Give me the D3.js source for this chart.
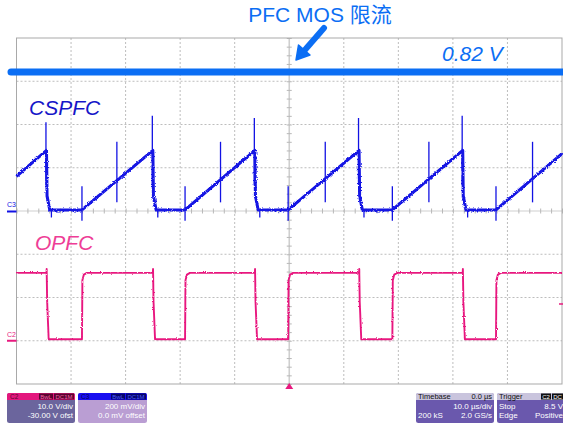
<!DOCTYPE html>
<html>
<head>
<meta charset="utf-8">
<script src="https://cdn.jsdelivr.net/npm/d3@7"></script>
<style>
  body { margin: 0; background: #fff; }
  svg { display: block; font-family: "Liberation Sans", Arial, "Noto Sans CJK SC", sans-serif; }
</style>
</head>
<body>
<script>
// Scope screen: 10 us/div, C3 = 200 mV/div, C2 = 10 V/div (-30 V offset)
var timeTicks = [-50, -40, -30, -20, -10, 0, 10, 20, 30, 40, 50];
var voltTicks = [-0.8, -0.6, -0.4, -0.2, 0, 0.2, 0.4, 0.6, 0.8];

// switching events (us)
var fallTimes   = [-44.5, -25.0, -6.3, 12.8, 31.8];   // MOS turns off
var valleyTimes = [-38.0, -19.1, -0.2, 18.9, 37.9];   // MOS turns on
var midSpikes   = [-31.6, -12.6, 6.6, 25.6, 44.6];

// CSPFC (C3, volts)
var csStart = 0.16, csEnd = 0.265, csPeak = 0.28, csBase = 0.005;
var csFallSpikeTop = [0.41, 0.44, 0.43, 0.43, 0.44];
var csMidSpike = [0.32, 0.04];
var csValleySpike = [0.115, -0.045];
var limitLevel = 0.643;            // drawn "0.82 V" limit line

// OPFC (C2, volts)
var gateHigh = 15.7, gateLow = 0.35, gateOvershoot = 16.6;
var triggerLevel = 8.5;

var W = 563, H = 425;
var svg = d3.select("body").append("svg").attr("width", W).attr("height", H);

var x = d3.scaleLinear().domain([-50, 50]).range([16.5, 562]);
var yC3 = d3.scaleLinear().domain([-0.8, 0.8]).range([384, 38]);
var yC2 = d3.scaleLinear().domain([-10, 70]).range([384, 38]);

// noisy trace look
var defs = svg.append("defs");
function jitter(id, scale, seed) {
  var f = defs.append("filter").attr("id", id)
    .attr("filterUnits", "userSpaceOnUse")
    .attr("x", 0).attr("y", 0).attr("width", W).attr("height", H);
  f.append("feTurbulence").attr("type", "fractalNoise")
    .attr("baseFrequency", "0.8").attr("numOctaves", 1).attr("seed", seed).attr("result", "n");
  f.append("feDisplacementMap").attr("in", "SourceGraphic").attr("in2", "n")
    .attr("scale", scale).attr("xChannelSelector", "R").attr("yChannelSelector", "G");
}
jitter("jitB", 3.4, 4);
jitter("jitP", 2.6, 9);

/* ---------- graticule ---------- */
var grid = svg.append("g");
grid.selectAll(".vg").data(timeTicks.filter(function(t){ return t > -50 && t < 50 && t != 0; }))
  .enter().append("line")
  .attr("x1", function(d){ return x(d); }).attr("x2", function(d){ return x(d); })
  .attr("y1", yC3(0.8)).attr("y2", yC3(-0.8))
  .attr("stroke", "#bdbdbd").attr("stroke-dasharray", "2,2");
grid.selectAll(".hg").data(voltTicks.filter(function(v){ return v > -0.8 && v < 0.8 && v != 0; }))
  .enter().append("line")
  .attr("y1", function(d){ return yC3(d); }).attr("y2", function(d){ return yC3(d); })
  .attr("x1", x(-50)).attr("x2", x(50))
  .attr("stroke", "#bdbdbd").attr("stroke-dasharray", "2,2");

// center lines with minor ticks
grid.append("line").attr("x1", x(0)).attr("x2", x(0)).attr("y1", yC3(0.8)).attr("y2", yC3(-0.8))
  .attr("stroke", "#cfcfcf").attr("stroke-width", 1.6);
grid.append("line").attr("x1", x(-50)).attr("x2", x(50)).attr("y1", yC3(0)).attr("y2", yC3(0))
  .attr("stroke", "#cfcfcf").attr("stroke-width", 1.2);

var minorT = d3.range(-50, 50.01, 2);
var minorV = d3.range(-0.8, 0.801, 0.04);
grid.append("g").attr("transform", "translate(0," + (yC3(0) + 2.5) + ")")
  .call(d3.axisTop(x).tickValues(minorT).tickSize(5).tickFormat(""))
  .call(function(g){ g.select(".domain").remove(); g.selectAll("line").attr("stroke", "#b8b8b8"); });
grid.append("g").attr("transform", "translate(" + (x(0) - 2.5) + ",0)")
  .call(d3.axisRight(yC3).tickValues(minorV).tickSize(5).tickFormat(""))
  .call(function(g){ g.select(".domain").remove(); g.selectAll("line").attr("stroke", "#b8b8b8"); });

grid.append("rect").attr("x", x(-50)).attr("y", yC3(0.8))
  .attr("width", x(50) - x(-50)).attr("height", yC3(-0.8) - yC3(0.8))
  .attr("fill", "none").attr("stroke", "#a9a9a9");

/* ---------- CSPFC trace ---------- */
var csPts = [[-50, csStart]];
fallTimes.forEach(function(tf, i) {
  csPts.push([tf, csPeak], [tf + 0.1, 0.07], [tf + 0.6, csBase], [valleyTimes[i], csBase]);
});
csPts.push([50, csEnd]);

var line3 = d3.line().x(function(d){ return x(d[0]); }).y(function(d){ return yC3(d[1]); });
var blue = "#1212e4";
var spikes = svg.append("g").attr("stroke", blue).attr("stroke-width", 1.3);
fallTimes.forEach(function(tf, i) {
  spikes.append("line").attr("x1", x(tf - 0.1)).attr("x2", x(tf - 0.1))
    .attr("y1", yC3(csFallSpikeTop[i])).attr("y2", yC3(0.12));
  spikes.append("line").attr("x1", x(tf + 0.9)).attr("x2", x(tf + 0.9))
    .attr("y1", yC3(csBase)).attr("y2", yC3(-0.03));
});
midSpikes.forEach(function(t) {
  spikes.append("line").attr("x1", x(t)).attr("x2", x(t))
    .attr("y1", yC3(csMidSpike[0])).attr("y2", yC3(csMidSpike[1]));
});
valleyTimes.forEach(function(t) {
  spikes.append("line").attr("x1", x(t)).attr("x2", x(t))
    .attr("y1", yC3(csValleySpike[0])).attr("y2", yC3(csValleySpike[1]));
});
svg.append("path").datum(csPts).attr("d", line3)
  .attr("fill", "none").attr("stroke", blue).attr("stroke-width", 3)
  .attr("stroke-linejoin", "round").attr("filter", "url(#jitB)");

/* ---------- OPFC trace ---------- */
var gPts = [[-50, gateHigh]];
fallTimes.forEach(function(tf, i) {
  var tv = valleyTimes[i];
  gPts.push([tf, gateHigh], [tf + 0.03, gateOvershoot], [tf + 0.12, 9], [tf + 0.4, gateLow],
            [tv, gateLow], [tv + 0.08, 14.0], [tv + 0.35, 15.3], [tv + 0.9, gateHigh]);
});
gPts.push([50, gateHigh]);
var line2 = d3.line().x(function(d){ return x(d[0]); }).y(function(d){ return yC2(d[1]); });
var pink = "#e8197f";
svg.append("path").datum(gPts).attr("d", line2)
  .attr("fill", "none").attr("stroke", pink).attr("stroke-width", 1.9)
  .attr("stroke-linejoin", "round").attr("filter", "url(#jitP)");

/* ---------- channel & trigger markers ---------- */
svg.append("line").attr("x1", 7).attr("x2", x(-50)).attr("y1", yC3(0) + 0.5).attr("y2", yC3(0) + 0.5)
  .attr("stroke", blue).attr("stroke-width", 2);
svg.append("text").attr("x", 7).attr("y", yC3(0) - 4).attr("font-size", 7).attr("fill", blue).text("C3");
svg.append("line").attr("x1", 7).attr("x2", x(-50)).attr("y1", yC2(0)).attr("y2", yC2(0))
  .attr("stroke", pink).attr("stroke-width", 2);
svg.append("text").attr("x", 7).attr("y", yC2(0) - 4).attr("font-size", 7).attr("fill", pink).text("C2");
svg.append("path").attr("d", "M" + x(0) + "," + (yC3(-0.8) - 1) + "l4,6h-8z").attr("fill", pink);
svg.append("line").attr("x1", x(50) - 3).attr("x2", W).attr("y1", yC2(triggerLevel)).attr("y2", yC2(triggerLevel))
  .attr("stroke", pink).attr("stroke-width", 1.5);

/* ---------- annotations ---------- */
var annBlue = "#0b6ef4";
svg.append("line").attr("x1", 11).attr("x2", W + 5)
  .attr("y1", yC3(limitLevel)).attr("y2", yC3(limitLevel))
  .attr("stroke", annBlue).attr("stroke-width", 7).attr("stroke-linecap", "round");
svg.append("text").attr("x", 320).attr("y", 22).attr("text-anchor", "middle")
  .attr("font-size", 21).attr("fill", annBlue).text("PFC MOS 限流");
svg.append("line").attr("x1", 324).attr("y1", 28).attr("x2", 304).attr("y2", 51)
  .attr("stroke", annBlue).attr("stroke-width", 6).attr("stroke-linecap", "round");
svg.append("path").attr("d", "M296,60L310,55L298.5,45Z").attr("fill", annBlue)
  .attr("stroke", annBlue).attr("stroke-width", 1.5).attr("stroke-linejoin", "round");
svg.append("text").attr("x", 442).attr("y", 61).attr("font-size", 21).attr("font-style", "italic")
  .attr("fill", annBlue).text("0.82 V");
svg.append("text").attr("x", 29).attr("y", 115).attr("font-size", 21).attr("font-style", "italic")
  .attr("fill", "#1616c8").text("CSPFC");
svg.append("text").attr("x", 35).attr("y", 250).attr("font-size", 21).attr("font-style", "italic")
  .attr("fill", "#ee3d96").text("OPFC");

/* ---------- info boxes ---------- */
var c2Info = ["10.0 V/div", "-30.00 V ofst"];
var c3Info = ["200 mV/div", "0.0 mV offset"];
var tbInfo = { head: ["Timebase", "0.0 µs"], rows: [["", "10.0 µs/div"], ["200 kS", "2.0 GS/s"]] };
var trInfo = { head: ["Trigger", ""], rows: [["Stop", "8.5 V"], ["Edge", "Positive"]] };

function box(x0, w, headCol, bodyCol) {
  var g = svg.append("g").attr("transform", "translate(" + x0 + ",393)");
  g.append("rect").attr("width", w).attr("height", 30).attr("rx", 2.5).attr("fill", bodyCol);
  g.append("rect").attr("width", w).attr("height", 7).attr("rx", 2).attr("fill", headCol);
  g.append("rect").attr("y", 4).attr("width", w).attr("height", 3).attr("fill", headCol);
  return g;
}
function tag(g, xr, label, bg, fg, w) {
  g.append("rect").attr("x", xr - w).attr("y", 0.5).attr("width", w).attr("height", 6).attr("fill", bg);
  g.append("text").attr("x", xr - w / 2).attr("y", 5.8).attr("text-anchor", "middle")
    .attr("font-size", 6).attr("fill", fg).text(label);
}

var b2 = box(7, 68, "#e3177d", "#6b659d");
b2.append("text").attr("x", 3).attr("y", 5.8).attr("font-size", 6.5).attr("fill", "#5a0530").text("C2");
tag(b2, 67, "DC1M", "#5a0530", "#f060a8", 20);
tag(b2, 46, "BwL", "#5a0530", "#f060a8", 14);
c2Info.forEach(function(s, i) {
  b2.append("text").attr("x", 66).attr("y", 16 + i * 8.5).attr("text-anchor", "end")
    .attr("font-size", 8).attr("fill", "#fff").text(s);
});

var b3 = box(78, 69, "#1a0ff0", "#ba9ed3");
b3.append("text").attr("x", 3).attr("y", 5.8).attr("font-size", 6.5).attr("fill", "#05055a").text("C3");
tag(b3, 68, "DC1M", "#06066a", "#4a5aff", 20);
tag(b3, 47, "BwL", "#06066a", "#4a5aff", 14);
c3Info.forEach(function(s, i) {
  b3.append("text").attr("x", 67).attr("y", 16 + i * 8.5).attr("text-anchor", "end")
    .attr("font-size", 8).attr("fill", "#fff").text(s);
});

function infoBox(x0, w, info) {
  var g = box(x0, w, "#c9c4dd", "#6a58ad");
  g.append("text").attr("x", 2).attr("y", 6).attr("font-size", 7.5).attr("fill", "#111").text(info.head[0]);
  g.append("text").attr("x", w - 2).attr("y", 6).attr("text-anchor", "end")
    .attr("font-size", 7.5).attr("fill", "#111").text(info.head[1]);
  info.rows.forEach(function(r, i) {
    g.append("text").attr("x", 2).attr("y", 16 + i * 8.5).attr("font-size", 8).attr("fill", "#fff").text(r[0]);
    g.append("text").attr("x", w - 2).attr("y", 16 + i * 8.5).attr("text-anchor", "end")
      .attr("font-size", 8).attr("fill", "#fff").text(r[1]);
  });
  return g;
}
infoBox(416, 78, tbInfo);
var tr = infoBox(497, 68, trInfo);
tag(tr, 66, "DC", "#111", "#fff", 11);
tag(tr, 54, "C2", "#111", "#fff", 10);
</script>
</body>
</html>
